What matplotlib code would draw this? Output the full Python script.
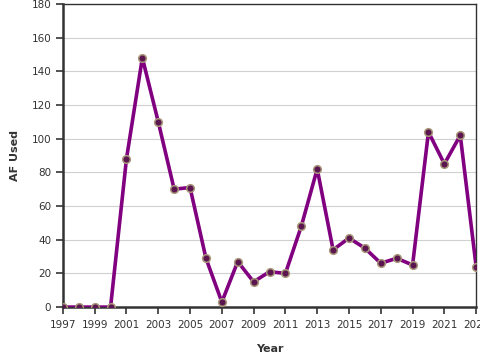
import matplotlib
matplotlib.use("Agg")
import matplotlib.pyplot as plt
import numpy as np

# Data
years = list(range(1997, 2024))
af_used = [0, 0, 0, 0, 88, 148, 110, 70, 71, 29, 3, 27, 15, 21, 20,
           48, 82, 34, 41, 35, 26, 29, 25, 104, 85, 102, 24]

fig = plt.figure(figsize=(4.8, 3.6), dpi=100)
ax = fig.add_axes([0.131, 0.147, 0.861, 0.842])

ax.plot(years, af_used, color='#800080', linewidth=2.6, zorder=3)
ax.plot(years, af_used, linestyle='none', marker='o', markersize=5.5,
        markerfacecolor='#5b1650', markeredgecolor='#a8977a',
        markeredgewidth=1.1, zorder=4)

ax.set_xlim(1997, 2023)
ax.set_ylim(0, 180)
ax.set_xticks(np.arange(1997, 2024, 2))
ax.set_yticks(np.arange(0, 181, 20))

ax.grid(True, axis='y', color='#d0d0d0', linewidth=0.8)
ax.set_axisbelow(True)

for side in ['left', 'bottom']:
    ax.spines[side].set_linewidth(1.8)
    ax.spines[side].set_color('#333333')
for side in ['top', 'right']:
    ax.spines[side].set_linewidth(1.0)
    ax.spines[side].set_color('#333333')

ax.tick_params(axis='both', labelsize=7.5, colors='#333333', length=5, width=1.2)
ax.tick_params(axis='x', pad=4.5)

ax.set_xlabel('Year', fontsize=8, fontweight='bold', color='#333333', labelpad=10)
ax.set_ylabel('AF Used', fontsize=8, fontweight='bold', color='#333333', labelpad=8)

fig.savefig('out.png', dpi=100)
